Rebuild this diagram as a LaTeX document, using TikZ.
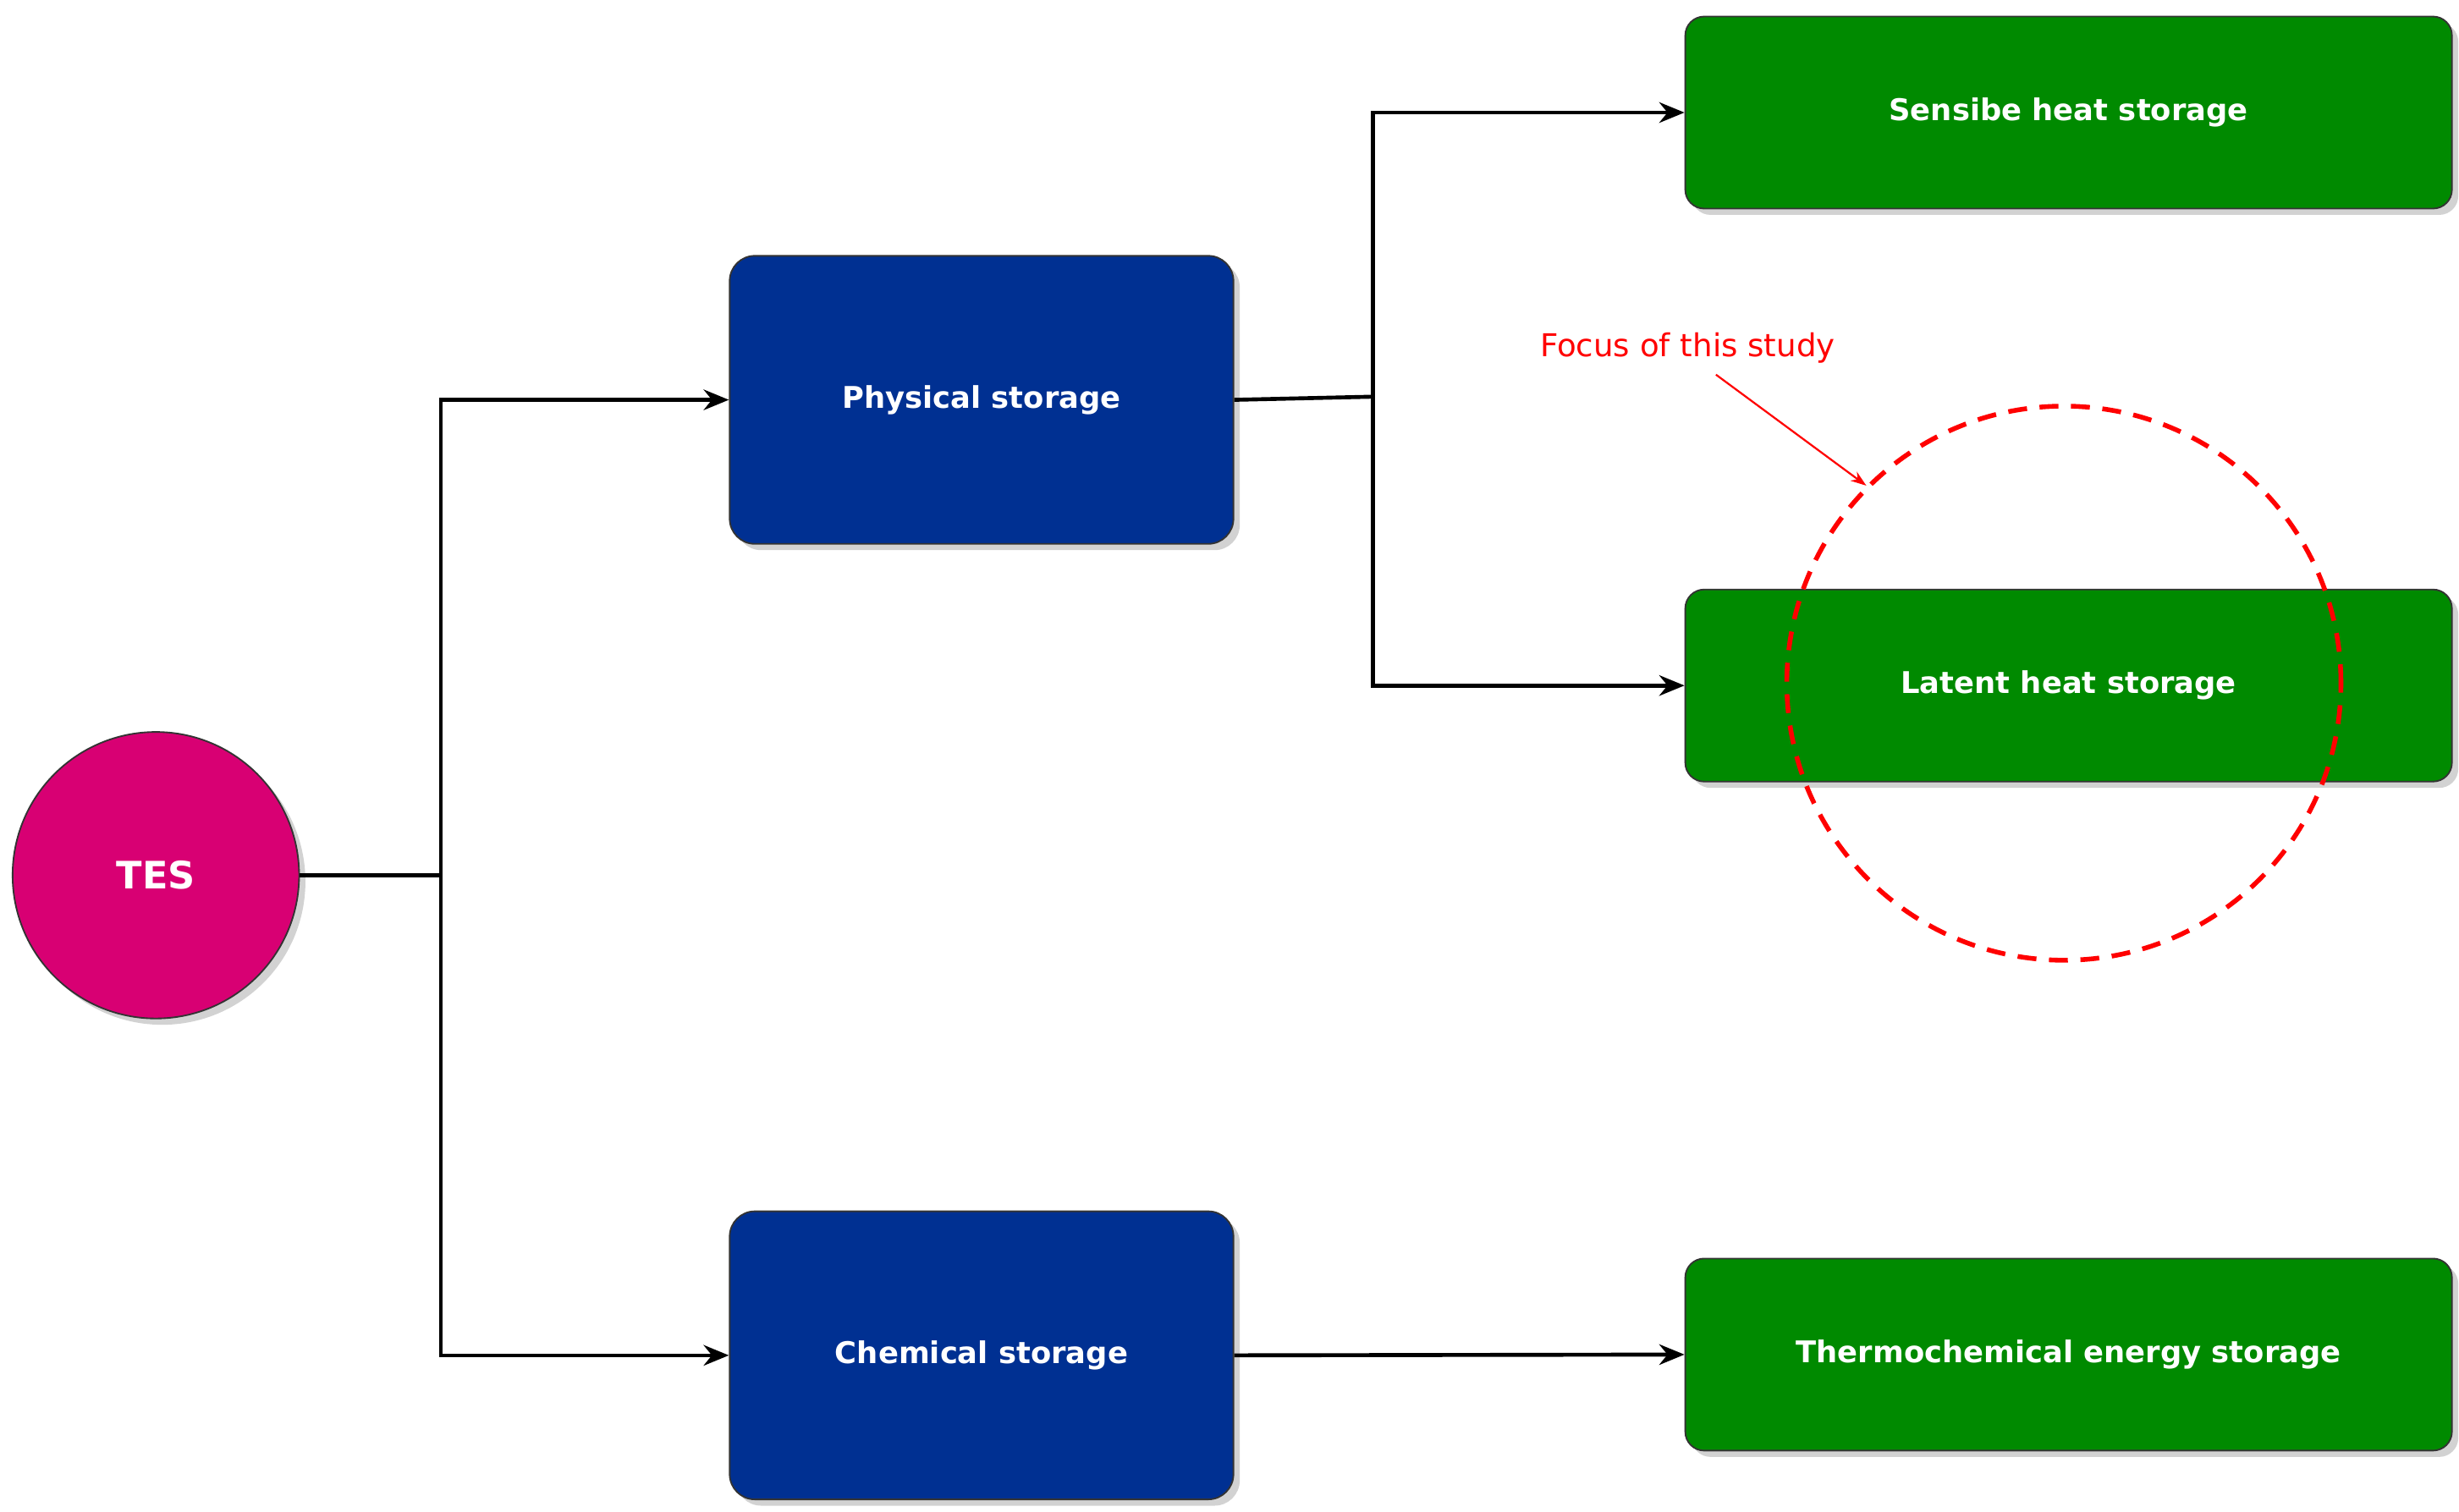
\documentclass[tikz,border=0pt]{standalone}
\usepackage{fontspec}
\setmainfont{DejaVu Sans}
\usetikzlibrary{shadows,arrows.meta}
\definecolor{tesc}{HTML}{D80073}
\definecolor{bluec}{HTML}{003092}
\definecolor{greenc}{HTML}{008A00}
\begin{document}
\begin{tikzpicture}[x=1pt,y=-1pt,
  box/.style={draw=black!80,line width=1pt,rounded corners=16pt,text=white,font=\fontsize{19}{22}\selectfont\bfseries,
    drop shadow={shadow xshift=4pt,shadow yshift=-4pt,fill=black!35},anchor=north west,inner sep=0pt},
  phys/.style={box,fill=bluec,minimum width=320pt,minimum height=183pt},
  grn/.style={box,fill=greenc,minimum width=487pt,minimum height=122pt,rounded corners=12pt},
  conn/.style={line width=2.5pt,draw=black},
  arr/.style={conn,-{Stealth[length=16pt,width=13pt]}}]
\useasboundingbox (0,0) rectangle (1562,960);
\node[circle,fill=tesc,draw=black!80,line width=1pt,minimum size=182pt,text=white,font=\fontsize{24}{28}\selectfont\bfseries,
  drop shadow={shadow xshift=4pt,shadow yshift=-4pt,fill=black!35}] (tes) at (99,556) {TES};
\node[phys] (phy) at (463,162) {Physical storage};
\node[phys] (che) at (463,769) {Chemical storage};
\node[grn] (sen) at (1070,10) {Sensibe heat storage};
\node[grn] (lat) at (1070,374) {Latent heat storage};
\node[grn] (thc) at (1070,799) {Thermochemical energy storage};
\coordinate (j1) at (280,556);
\coordinate (j2) at (872,252);
\draw[conn] (tes.east) -- (j1);
\draw[arr] (j1) |- (phy.west);
\draw[arr] (j1) |- (che.west);
\draw[conn] (phy.east) -- (j2);
\draw[arr] (j2) |- (sen.west);
\draw[arr] (j2) |- (lat.west);
\draw[arr] (che.east) -- (thc.west);
\node[circle,draw=red,dash pattern=on 12pt off 8pt,line width=3pt,minimum size=352pt] (foc) at (1311,434) {};
\node[text=red,font=\fontsize{20}{24}\selectfont] (lab) at (1072,221) {Focus of this study};
\draw[red,line width=1.2pt,-{Stealth[length=10pt,width=7pt]}] (1090,238) -- (foc.135);
\end{tikzpicture}
\end{document}
